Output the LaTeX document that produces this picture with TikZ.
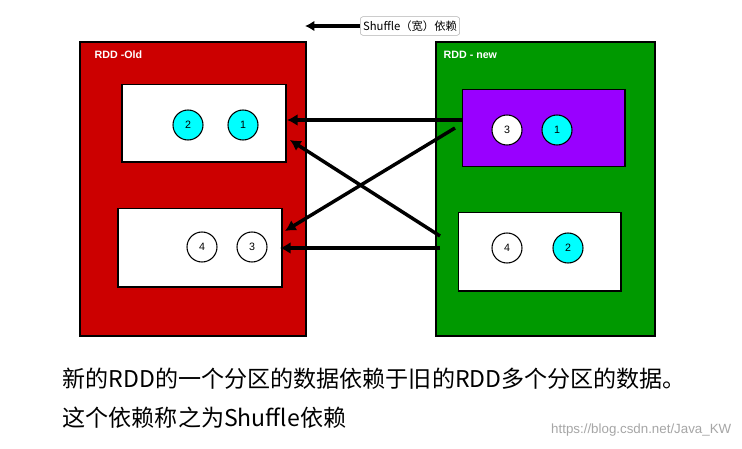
\documentclass[tikz,border=0pt]{standalone}
\usepackage{fontspec}
\setmainfont{Liberation Sans}
\newfontfamily\cjk{Noto Sans CJK SC}
\usetikzlibrary{arrows.meta}
\definecolor{rddred}{RGB}{204,0,0}
\definecolor{rddgreen}{RGB}{0,153,0}
\definecolor{rddpurple}{RGB}{153,0,255}
\definecolor{cy}{RGB}{0,255,255}
\tikzset{
 outer/.style={draw=black,line width=1.5pt},
 inner/.style={draw=black,line width=1pt,fill=white},
 part/.style={circle,draw=black,line width=0.8pt,minimum size=22.5pt,inner sep=0pt,font=\fontsize{8}{9}\selectfont},
 dep/.style={line width=2.6pt,-{Latex[length=8pt,width=9pt]}},
 ttl/.style={anchor=north west,text=white,font=\bfseries\fontsize{8}{9}\selectfont},
}
\begin{document}
\begin{tikzpicture}[x=0.75pt,y=-0.75pt]
\useasboundingbox (0,0) rectangle (742,449);
\fill[white] (0,0) rectangle (742,449);
% outer boxes
\draw[outer,fill=rddred] (80,42) rectangle (306,336);
\node[ttl] (tl) at (90,46) {RDD -Old};
\draw[outer,fill=rddgreen] (436,42) rectangle (655,336);
\node[ttl] (tr) at (439,46) {RDD - new};
% inner boxes
\node[inner,minimum width=123pt,minimum height=58pt] (lt) at (204,123.5) {};
\node[inner,minimum width=123pt,minimum height=59pt] (lb) at (200,247.5) {};
\node[draw=black,line width=1pt,fill=rddpurple,minimum width=122pt,minimum height=58pt] (rt) at (543.5,128) {};
\node[inner,minimum width=122pt,minimum height=59pt] (rb) at (539.5,251.5) {};
% partitions
\node[part,fill=cy] (a2) at (188,125) {2};
\node[part,fill=cy] (a1) at (243,125) {1};
\node[part,fill=white] (b4) at (202,247) {4};
\node[part,fill=white] (b3) at (252,247) {3};
\node[part,fill=white] (c3) at (507,130) {3};
\node[part,fill=cy] (c1) at (557,130) {1};
\node[part,fill=white] (d4) at (507,248) {4};
\node[part,fill=cy] (d2) at (568,248) {2};
% dependencies
\coordinate (s1) at (462,120); \coordinate (e1) at (287,120);
\coordinate (s2) at (440,236); \coordinate (e2) at (290,140);
\coordinate (s3) at (455,128); \coordinate (e3) at (285,231);
\coordinate (s4) at (440,248); \coordinate (e4) at (280,248);
\draw[dep] (s1) -- (e1);
\draw[dep] (s2) -- (e2);
\draw[dep] (s3) -- (e3);
\draw[dep] (s4) -- (e4);
% legend
\node[draw=black!30,rounded corners=2pt,fill=white,font=\cjk\fontsize{8.5}{9}\selectfont,inner sep=2pt,minimum height=14pt] (lg) at (410,26) {Shuffle（宽）依赖};
\coordinate (lge) at (305,26);
\draw[line width=2.4pt,-{Latex[length=7pt,width=8pt]}] (lg.west) -- (lge);
% text
\node[anchor=west,font=\cjk\fontsize{17.3}{20}\selectfont] (t1) at (58,379) {新的RDD的一个分区的数据依赖于旧的RDD多个分区的数据。};
\node[anchor=west,font=\cjk\fontsize{17.3}{20}\selectfont] (t2) at (58,418) {这个依赖称之为Shuffle依赖};
\node[anchor=east,text=black!35,font=\fontsize{10}{12}\selectfont] (wm) at (736,430) {https://blog.csdn.net/Java\_KW};
\end{tikzpicture}
\end{document}
